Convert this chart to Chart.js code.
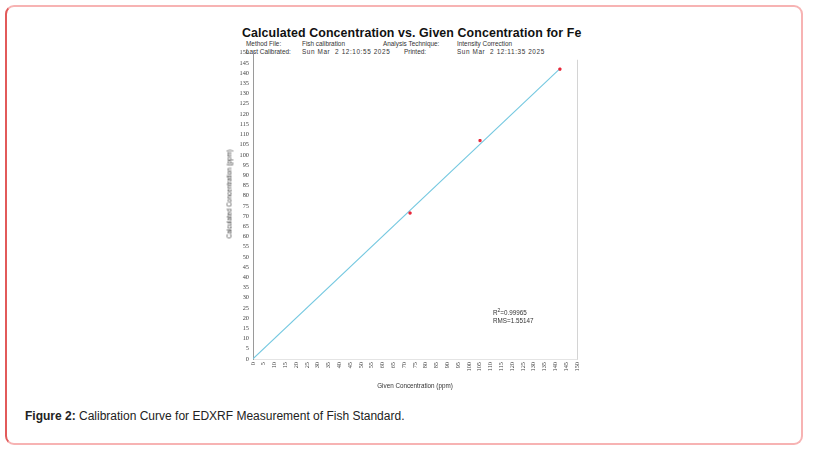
<!DOCTYPE html>
<html>
<head>
<meta charset="utf-8">
<script src="https://cdn.jsdelivr.net/npm/chart.js@4.4.1/dist/chart.umd.min.js"></script>
<style>
  html, body { margin: 0; padding: 0; background: #fff; }
  body { width: 821px; height: 451px; position: relative; overflow: hidden; font-family: "Liberation Sans", Arial, sans-serif; }
  .frame {
    position: absolute; left: 5px; top: 5px; width: 798px; height: 440px;
    border: 2px solid #f7b3b3; border-left-color: #e25a5a; border-radius: 9px; box-sizing: border-box;
  }
  .hdr { position: absolute; white-space: nowrap; color: #222; }
  .title { left: 242px; top: 26px; font-size: 12.4px; font-weight: bold; color: #111; letter-spacing: 0.1px; }
  .sm { font-size: 6.4px; color: #333; }
  .dt { letter-spacing: 0.6px; }
  #wrap { position: absolute; left: 220px; top: 45px; width: 370px; height: 345px; }
  .ytitle {
    position: absolute; left: 229px; top: 194px; font-family: "Liberation Sans Narrow", "Liberation Sans", sans-serif;
    font-size: 6.3px; color: #333; white-space: nowrap; transform: translate(-50%, -50%) rotate(-90deg);
  }
  .stats { position: absolute; left: 493px; top: 309px; font-size: 6.3px; line-height: 7.5px; color: #333; }
  .caption { position: absolute; left: 25px; top: 409px; font-size: 12px; color: #222; }
</style>
</head>
<body>
<div class="frame"></div>
<div class="hdr title">Calculated Concentration vs. Given Concentration for Fe</div>
<div class="hdr sm" style="left:246px;top:40px">Method File:</div>
<div class="hdr sm" style="left:302px;top:40px">Fish calibration</div>
<div class="hdr sm" style="left:383px;top:40px">Analysis Technique:</div>
<div class="hdr sm" style="left:457px;top:40px">Intensity Correction</div>
<div class="hdr sm" style="left:246px;top:48px">Last Calibrated:</div>
<div class="hdr sm dt" style="left:302px;top:48px">Sun Mar &nbsp;2 12:10:55 2025</div>
<div class="hdr sm" style="left:404px;top:48px">Printed:</div>
<div class="hdr sm dt" style="left:457px;top:48px">Sun Mar &nbsp;2 12:11:35 2025</div>
<div id="wrap"><canvas id="c"></canvas></div>
<div class="ytitle">Calculated Concentration (ppm)</div>
<div class="stats">R<sup style="font-size:5px;line-height:0">2</sup>=0.99965<br>RMS=1.55147</div>
<div class="caption"><b>Figure 2:</b> Calibration Curve for EDXRF Measurement of Fish Standard.</div>
<script>
// standards: given vs calculated concentration (ppm)
const givenConc = [72.7, 105.1, 142.1];
const calcConc = [71.5, 107.0, 142.0];
// calibration line end points
const fitX = [0, 142];
const fitY = [0.1, 142.1];
const axisMin = 0;
const axisMax = 150;
const tickStep = 5;

const pts = givenConc.map((x, i) => ({ x: x, y: calcConc[i] }));
const fit = fitX.map((x, i) => ({ x: x, y: fitY[i] }));

// thin right edge of the plot box
const boxPlugin = {
  id: 'box',
  afterDraw(chart) {
    const a = chart.chartArea, ctx = chart.ctx;
    ctx.save();
    ctx.strokeStyle = '#d4d4d4';
    ctx.lineWidth = 1;
    ctx.beginPath();
    ctx.moveTo(a.right + 0.5, a.top + 7);
    ctx.lineTo(a.right + 0.5, a.bottom + 0.5);
    ctx.stroke();
    ctx.restore();
  }
};

const tickFont = { family: 'Liberation Sans Narrow', size: 6.3 };

new Chart(document.getElementById('c'), {
  type: 'scatter',
  data: {
    datasets: [
      {
        label: 'fit',
        data: fit,
        showLine: true,
        borderColor: '#74c8e0',
        borderWidth: 1.1,
        pointRadius: 0,
        order: 2
      },
      {
        label: 'standards',
        data: pts,
        backgroundColor: '#e8283a',
        borderColor: '#e8283a',
        pointStyle: 'rect',
        pointRadius: 1.5,
        order: 1
      }
    ]
  },
  options: {
    responsive: true,
    maintainAspectRatio: false,
    animation: false,
    layout: { padding: { top: 5, right: 13, left: 0, bottom: 0 } },
    plugins: { legend: { display: false }, tooltip: { enabled: false } },
    scales: {
      x: {
        type: 'linear', min: axisMin, max: axisMax,
        grid: { display: false, drawTicks: false, tickLength: 0 },
        border: { display: true, color: '#e4e4e4' },
        ticks: { stepSize: tickStep, autoSkip: false, minRotation: 90, maxRotation: 90, font: tickFont, color: '#444', padding: 3 },
        title: { display: true, text: 'Given Concentration (ppm)', font: { family: 'Liberation Sans', size: 6.3 }, color: '#333', padding: { top: 9, bottom: 0 } },
        afterFit(s) { s.height = 31; }
      },
      y: {
        type: 'linear', min: axisMin, max: axisMax,
        grid: { display: false, drawTicks: false, tickLength: 0 },
        border: { display: true, color: '#9a9a9a' },
        ticks: { stepSize: tickStep, autoSkip: false, font: tickFont, color: '#444', padding: 4 },
        afterFit(s) { s.width = 33; }
      }
    }
  },
  plugins: [boxPlugin]
});
</script>
</body>
</html>
